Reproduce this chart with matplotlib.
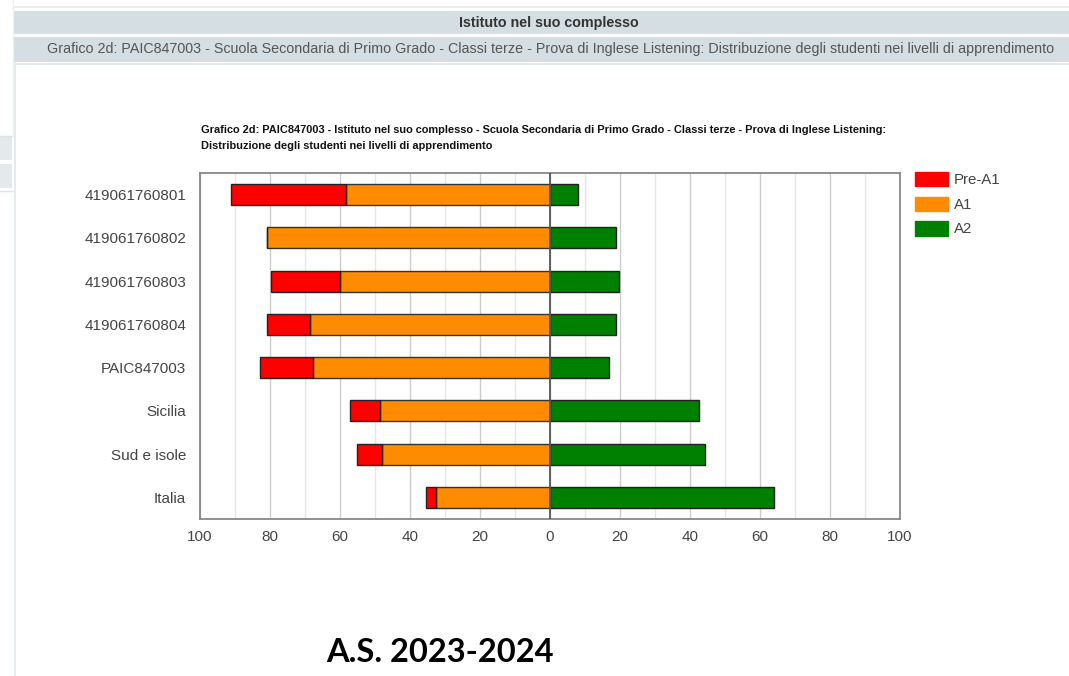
import numpy as np
import matplotlib
matplotlib.use("Agg")
import matplotlib.pyplot as plt
from matplotlib.patches import Rectangle

plt.rcParams["font.family"] = ["Liberation Sans", "DejaVu Sans"]

categories = ["419061760801", "419061760802", "419061760803", "419061760804",
              "PAIC847003", "Sicilia", "Sud e isole", "Italia"]
pre_a1 = [32.9, 0.0, 19.7, 12.4, 15.1, 8.5, 7.3, 2.8]
a1 = [58.3, 80.8, 60.0, 68.5, 67.8, 48.6, 47.9, 32.6]
a2 = [8.0, 18.8, 19.7, 18.8, 16.9, 42.5, 44.2, 64.1]
levels = ["Pre-A1", "A1", "A2"]
colors = ["#ff0000", "#ff8c00", "#008000"]
xticks = [-100, -80, -60, -40, -20, 0, 20, 40, 60, 80, 100]

W, H = 1069, 676
fig = plt.figure(figsize=(W / 100, H / 100), dpi=100)
fig.patch.set_facecolor("white")

def px(x, y, w, h):
    return [x / W, 1 - (y + h) / H, w / W, h / H]

# page header bands
bg = fig.add_axes([0, 0, 1, 1], zorder=-5)
bg.set_xlim(0, W)
bg.set_ylim(H, 0)
bg.axis("off")
bg.add_patch(Rectangle((14, 6), W, 2, color="#e8eef0", lw=0))
bg.add_patch(Rectangle((14, 11), W, 23, color="#d5dee2", lw=0))
bg.add_patch(Rectangle((14, 37), W, 25, color="#d5dee2", lw=0))
bg.add_patch(Rectangle((14, 63), W, 2, color="#e6ecee", lw=0))
bg.plot([14.5, 14.5], [63, H], color="#e6ecee", lw=1.5)
bg.plot([12.5, 12.5], [0, 134], color="#eef1f2", lw=1)
bg.add_patch(Rectangle((0, 137), 12, 23, color="#e4e9eb", lw=0))
bg.add_patch(Rectangle((0, 164), 12, 24, color="#e4e9eb", lw=0))
bg.plot([0, 12], [136, 136], color="#dde3e5", lw=1)
bg.plot([0, 12], [191, 191], color="#dde3e5", lw=1)
bg.text(549, 23, "Istituto nel suo complesso", ha="center", va="center",
        fontsize=10.3, fontweight="bold", color="#333333")
bg.text(551, 49.5, "Grafico 2d: PAIC847003 - Scuola Secondaria di Primo Grado - Classi terze - "
        "Prova di Inglese Listening: Distribuzione degli studenti nei livelli di apprendimento",
        ha="center", va="center", fontsize=10.28, color="#555555")
bg.text(201, 130, "Grafico 2d: PAIC847003 - Istituto nel suo complesso - Scuola Secondaria di Primo Grado - "
        "Classi terze - Prova di Inglese Listening:", ha="left", va="center",
        fontsize=7.95, fontweight="bold", color="#111111")
bg.text(201, 146, "Distribuzione degli studenti nei livelli di apprendimento", ha="left", va="center",
        fontsize=7.95, fontweight="bold", color="#111111")
bg.text(440, 652, "A.S. 2023-2024", ha="center", va="center", fontsize=23.5,
        fontweight="bold", color="black", family=["Lato", "DejaVu Sans"])

# chart
ax = fig.add_axes(px(200, 173, 700, 346))
y = np.arange(len(categories))
pre = np.array(pre_a1)
mid = np.array(a1)
hi = np.array(a2)
bh = 0.49
ax.barh(y, -mid, height=bh, left=0, color=colors[1], edgecolor="#333333", lw=1, zorder=3, label=levels[1])
ax.barh(y, -pre, height=bh, left=-mid, color=colors[0], edgecolor="#222222", lw=1, zorder=3, label=levels[0])
ax.barh(y, hi, height=bh, left=0, color=colors[2], edgecolor="#222222", lw=1, zorder=3, label=levels[2])
ax.axvline(0, color="#555555", lw=1.3, zorder=4)

ax.set_xlim(-100, 100)
ax.set_ylim(len(categories) - 0.5, -0.5)
ax.set_yticks(y)
ax.set_yticklabels(categories)
ax.set_xticks(xticks)
ax.set_xticklabels([str(abs(t)) for t in xticks])
ax.set_xticks(np.arange(-90, 100, 20), minor=True)
ax.grid(axis="x", which="major", color="#cccccc", lw=1, zorder=0)
ax.grid(axis="x", which="minor", color="#e6e6e6", lw=1, zorder=0)
ax.tick_params(axis="both", which="both", length=0, labelsize=11, labelcolor="#444444")
ax.tick_params(axis="x", pad=8)
ax.tick_params(axis="y", pad=10)
for s in ax.spines.values():
    s.set_color("#888888")
    s.set_linewidth(1.3)

handles = [Rectangle((0, 0), 1, 1, color=c) for c in colors]
leg = fig.legend(handles, levels, loc="upper left", bbox_to_anchor=(915 / W, 1 - 172 / H),
                 frameon=False, fontsize=10.8, handlelength=2.2, handleheight=1.1,
                 handletextpad=0.4, labelspacing=0.62, borderaxespad=0, borderpad=0)
for t in leg.get_texts():
    t.set_color("#444444")

fig.savefig("out.png", dpi=100)
